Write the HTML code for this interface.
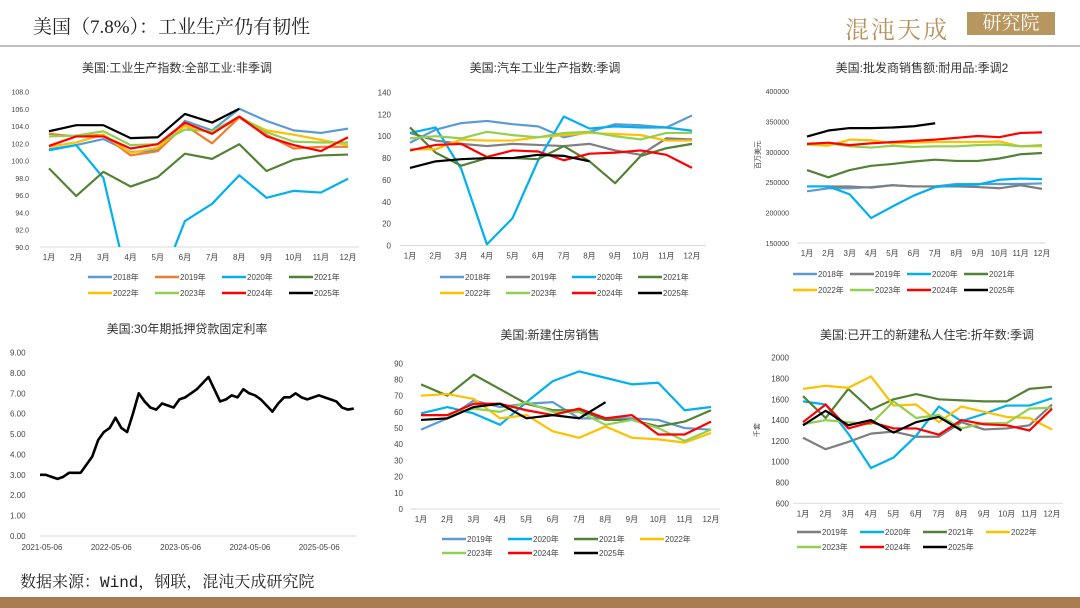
<!DOCTYPE html>
<html><head><meta charset="utf-8">
<style>
html,body{margin:0;padding:0;background:#fff;}
#page{position:relative;width:1080px;height:608px;overflow:hidden;background:#fff;font-family:"Liberation Sans","Noto Sans CJK SC",sans-serif;}
.ttl{position:absolute;left:33px;top:12px;font-size:19px;color:#222;font-family:"Liberation Serif","Noto Serif CJK SC",serif;}
svg text{font-family:"Liberation Sans","Noto Sans CJK SC",sans-serif;}
</style></head><body>
<div id="page">
<div class="ttl">美国（7.8%）：工业生产仍有韧性</div>
<div style="position:absolute;left:845px;top:10px;font-size:24px;color:#b8925c;font-family:'Liberation Serif','Noto Serif CJK SC',serif;letter-spacing:2px;">混沌天成</div>
<div style="position:absolute;left:967px;top:12px;width:88px;height:23px;background:#b8965f;color:#fff;font-size:19px;line-height:23px;text-align:center;font-family:'Liberation Serif','Noto Serif CJK SC',serif;">研究院</div>
<div style="position:absolute;left:0;top:45px;width:1080px;height:2px;background:#bdbdbd;"></div>
<div style="position:absolute;left:20px;top:569px;font-size:16px;color:#222;font-family:'Liberation Mono','Noto Serif CJK SC',monospace;">数据来源：Wind，钢联，混沌天成研究院</div>
<div style="position:absolute;left:0;top:597px;width:1080px;height:11px;background:#a77c4f;"></div>
<svg id="charts" width="1080" height="608" style="position:absolute;left:0;top:0"></svg>
</div>
<script>
const months=["1月","2月","3月","4月","5月","6月","7月","8月","9月","10月","11月","12月"];
const colors={"2018年":"#5b9bd5","2019年":"#ed7d31","2020年":"#00b0f0","2021年":"#548235","2022年":"#ffc000","2023年":"#92d050","2024年":"#ff0000","2025年":"#000000"};
// Chart 1: 工业生产指数
const c1_2018=[101.3,101.8,102.5,101.0,101.2,104.6,103.5,106.0,104.6,103.5,103.2,103.7];
const c1_2019=[103.1,102.8,103.0,100.6,101.1,104.1,102.0,105.0,103.0,101.4,101.6,101.6];
const c1_2020=[101.2,101.8,98.0,84.5,85.0,93.0,95.0,98.3,95.7,96.5,96.3,97.9];
const c1_2021=[99.1,95.9,98.7,97.0,98.1,100.8,100.2,101.9,98.8,100.1,100.6,100.7];
const c1_2022=[101.6,102.1,103.0,100.9,101.5,104.0,103.2,105.0,103.5,103.0,102.4,101.8];
const c1_2023=[102.8,102.9,103.4,101.8,101.9,103.6,103.4,105.1,103.3,102.2,102.1,102.1];
const c1_2024=[101.7,102.8,102.8,101.4,101.9,104.4,103.1,105.1,102.8,101.8,101.1,102.7];
const c1_2025=[103.4,104.1,104.1,102.6,102.7,105.4,104.4,106.0];
const c1Ticks=["90.0","92.0","94.0","96.0","98.0","100.0","102.0","104.0","106.0","108.0"];
// Chart 2: 汽车工业生产指数
const c2_2018=[94,106,112,114,111,109,99,104,111,110,108,119];
const c2_2019=[103,96,93,91,93,92,91,93,87,83,98,97];
const c2_2020=[103,108,70,1,25,78,118,107,109,108,108,105];
const c2_2021=[108,85,73,80,80,79,91,77,57,82,89,93];
const c2_2022=[88,88,97,96,96,99,101,103,102,101,96,96];
const c2_2023=[98,100,98,104,101,99,103,104,100,97,103,103];
const c2_2024=[87,92,93,81,87,86,78,84,85,87,83,71];
const c2_2025=[71,77,79,80,80,83,82,77];
const c2Ticks=["0","20","40","60","80","100","120","140"];
// Chart 3: 批发商销售额
const c3_2018=[235000,240000,240000,242000,245000,243000,243000,247000,247000,247000,247000,248000];
const c3_2019=[243000,243000,243000,241000,245000,243000,243000,243000,242000,240000,245000,239000];
const c3_2020=[243000,243000,230000,191000,210000,228000,242000,245000,246000,254000,256000,255000];
const c3_2021=[270000,258000,270000,277000,280000,284000,287000,285000,285000,289000,296000,298000];
const c3_2022=[312000,310000,320000,319000,314000,315000,316000,316000,316000,317000,309000,309000];
const c3_2023=[312000,314000,309000,307000,310000,308000,309000,309000,311000,312000,309000,311000];
const c3_2024=[313000,315000,311000,314000,316000,318000,320000,323000,326000,324000,331000,332000];
const c3_2025=[325000,335000,339000,339000,340000,342000,347000];
const c3Ticks=["150000","200000","250000","300000","350000","400000"];
// Chart 4: 30年期抵押贷款固定利率 (monthly from 2021-05)
const c4Rates=[3.0,3.0,2.9,2.8,2.9,3.1,3.1,3.1,
3.5,3.9,4.7,5.1,5.3,5.8,5.3,5.1,6.0,7.0,6.6,6.3,
6.2,6.5,6.4,6.3,6.7,6.8,7.0,7.2,7.5,7.8,7.2,6.6,
6.7,6.9,6.8,7.2,7.0,6.9,6.7,6.4,6.1,6.5,6.8,6.8,
7.0,6.8,6.7,6.8,6.9,6.8,6.7,6.6,6.3,6.2,6.25];
const c4Dates=["2021-05-06","2022-05-06","2023-05-06","2024-05-06","2025-05-06"];
const c4Ticks=["0.00","1.00","2.00","3.00","4.00","5.00","6.00","7.00","8.00","9.00"];
// Chart 5: 新建住房销售
const c5_2019=[49,56,67,63,65,66,56,56,56,55,50,49];
const c5_2020=[59,63,59,52,66,79,85,81,77,78,61,63];
const c5_2021=[77,70,83,74,65,61,61,55,55,51,54,61];
const c5_2022=[70,71,68,56,58,48,44,51,44,43,41,47];
const c5_2023=[58,58,62,60,66,60,60,52,55,50,42,49];
const c5_2024=[58,58,65,65,61,58,62,56,58,46,46,54];
const c5_2025=[55,56,63,65,56,58,56,66];
const c5Ticks=["0","10","20","30","40","50","60","70","80","90"];
// Chart 6: 已开工新建私人住宅
const c6_2019=[1230,1120,1190,1270,1290,1240,1240,1380,1310,1320,1350,1550];
const c6_2020=[1580,1550,1270,940,1040,1250,1530,1390,1460,1540,1540,1610];
const c6_2021=[1630,1420,1700,1500,1600,1650,1600,1590,1580,1580,1700,1720];
const c6_2022=[1700,1730,1710,1820,1540,1550,1380,1530,1480,1430,1420,1310];
const c6_2023=[1360,1400,1380,1360,1580,1420,1450,1320,1370,1370,1510,1520];
const c6_2024=[1380,1550,1320,1380,1320,1320,1260,1400,1360,1350,1300,1510];
const c6_2025=[1350,1490,1350,1400,1280,1380,1430,1300];
const c6Ticks=["600","800","1000","1200","1400","1600","1800","2000"];

const svg=document.getElementById('charts');
const NS='http://www.w3.org/2000/svg';
function mk(tag,attrs,parent){const e=document.createElementNS(NS,tag);for(const k in attrs)e.setAttribute(k,attrs[k]);(parent||svg).appendChild(e);return e;}
function txt(s,attrs,parent){const e=mk('text',attrs,parent);e.textContent=s;return e;}

function lineChart(cfg){
  const g=mk('g',{});
  
  
  const pal=Object.assign({},colors,cfg.pal||{});
  const t=txt(cfg.title,{x:cfg.tx,y:cfg.ty,'text-anchor':'middle','font-size':12,fill:'#333','font-family':'"Liberation Serif","Noto Serif CJK SC",serif'},g);
  
  
  const ymin=+cfg.ticks[0],ymax=+cfg.ticks[cfg.ticks.length-1];
  const Y=v=>cfg.y0+(v-ymin)/(ymax-ymin)*(cfg.y1-cfg.y0);
  const n=cfg.n||12;
  const X=i=>cfg.x0+i*(cfg.x1-cfg.x0)/(n-1);
  const clip='clip'+cfg.name;
  const cp=mk('clipPath',{id:clip},g);mk('rect',{x:cfg.ax0-5,y:cfg.y1-3,width:cfg.ax1-cfg.ax0+10,height:cfg.y0-cfg.y1+3},cp);
  const axis=mk('line',{x1:cfg.ax0,x2:cfg.ax1,y1:cfg.y0,y2:cfg.y0,stroke:'#d9d9d9','stroke-width':1},g);
  
  
  cfg.ticks.forEach(s=>{const e=txt(s,{x:cfg.lx,y:Y(+s)+3,'text-anchor':cfg.anchor||'end','font-size':cfg.tfs||8,fill:'#444'},g);
    
    });
  if(cfg.xlabels){cfg.xlabels.forEach((s,i)=>{const e=txt(s,{x:X(i),y:cfg.y0+13,'text-anchor':'middle','font-size':8,fill:'#444'},g);
    
    });}
  if(cfg.unit){const u=txt(cfg.unit,{x:cfg.ux,y:cfg.uy,'font-size':7,fill:'#444',transform:`rotate(-90 ${cfg.ux} ${cfg.uy})`,'text-anchor':'middle'},g);
    
    }
  cfg.series.forEach(([name,arr])=>{
    const p=mk('polyline',{points:arr.map((v,i)=>X(i)+','+Y(v)).join(' '),fill:'none',stroke:cfg.color?cfg.color:pal[name],'stroke-width':cfg.sw||2.2,'stroke-linejoin':'round','clip-path':`url(#${clip})`},g);
    
    
  });
  if(cfg.legend){
    cfg.series.forEach(([name],k)=>{
      const row=Math.floor(k/cfg.legend.per),col=k%cfg.legend.per;
      const lx=cfg.legend.x+col*cfg.legend.dx,ly=cfg.legend.y+row*cfg.legend.dy;
      const lg=mk('g',{},g);
      
      
      mk('line',{x1:lx,x2:lx+24,y1:ly,y2:ly,stroke:pal[name],'stroke-width':2.5},lg);
      txt(name,{x:lx+25,y:ly+3,'font-size':8,fill:'#444'},lg);
    });
  }
  return {X,Y,g};
}

lineChart({name:'industrial-production-chart',title:'美国:工业生产指数:全部工业:非季调',tx:177,ty:72,
  ticks:c1Ticks,y0:247,y1:91.5,lx:29,ax0:40,ax1:359,x0:49,x1:348,xlabels:months,tfs:7,
  series:[["2018年",c1_2018],["2019年",c1_2019],["2020年",c1_2020],["2021年",c1_2021],["2022年",c1_2022],["2023年",c1_2023],["2024年",c1_2024],["2025年",c1_2025]],
  legend:{x:88,y:277,dx:67,dy:16,per:4}});

lineChart({name:'auto-production-chart',title:'美国:汽车工业生产指数:季调',tx:545,ty:72,
  ticks:c2Ticks,y0:245.5,y1:92.5,lx:391,ax0:400,ax1:706,x0:410,x1:692,xlabels:months,
  pal:{"2019年":"#7f7f7f"},
  series:[["2018年",c2_2018],["2019年",c2_2019],["2020年",c2_2020],["2021年",c2_2021],["2022年",c2_2022],["2023年",c2_2023],["2024年",c2_2024],["2025年",c2_2025]],
  legend:{x:440,y:277,dx:66,dy:16,per:4}});

lineChart({name:'wholesale-durables-chart',title:'美国:批发商销售额:耐用品:季调2',tx:922,ty:72,
  ticks:c3Ticks,y0:243,y1:91,lx:789,ax0:797,ax1:1046,x0:807,x1:1042,xlabels:months,tfs:7,
  unit:'百万美元',ux:760,uy:155,pal:{"2019年":"#7f7f7f"},
  series:[["2018年",c3_2018],["2019年",c3_2019],["2020年",c3_2020],["2021年",c3_2021],["2022年",c3_2022],["2023年",c3_2023],["2024年",c3_2024],["2025年",c3_2025]],
  legend:{x:793,y:274,dx:57,dy:16,per:4}});

const c4=lineChart({name:'mortgage-rate-chart',title:'美国:30年期抵押贷款固定利率',tx:187,ty:333,
  ticks:c4Ticks,y0:536,y1:352.5,lx:10,anchor:'start',ax0:40,ax1:356,x0:40,x1:40+54*5.81,n:55,tfs:8,sw:2.6,color:'#000',
  series:[["rate",c4Rates]]});
c4Dates.forEach((d,i)=>{const e=txt(d,{x:42+i*69.3,y:550,'text-anchor':'middle','font-size':8,fill:'#444'},c4.g);
  
  });

lineChart({name:'new-home-sales-chart',title:'美国:新建住房销售',tx:550,ty:339,
  ticks:c5Ticks,y0:509,y1:363.3,lx:403,ax0:410,ax1:720,x0:421,x1:711,xlabels:months,
  pal:{"2019年":"#5b9bd5"},
  series:[["2019年",c5_2019],["2020年",c5_2020],["2021年",c5_2021],["2022年",c5_2022],["2023年",c5_2023],["2024年",c5_2024],["2025年",c5_2025]],
  legend:{x:442,y:539,dx:66,dy:14,per:4}});

lineChart({name:'housing-starts-chart',title:'美国:已开工的新建私人住宅:折年数:季调',tx:927,ty:339,
  ticks:c6Ticks,y0:503.3,y1:357.7,lx:789,ax0:793,ax1:1063,x0:803,x1:1052,xlabels:months,
  unit:'千套',ux:759,uy:430,pal:{"2019年":"#7f7f7f"},
  series:[["2019年",c6_2019],["2020年",c6_2020],["2021年",c6_2021],["2022年",c6_2022],["2023年",c6_2023],["2024年",c6_2024],["2025年",c6_2025]],
  legend:{x:797,y:532,dx:63,dy:15,per:4}});
</script>
</body></html>
